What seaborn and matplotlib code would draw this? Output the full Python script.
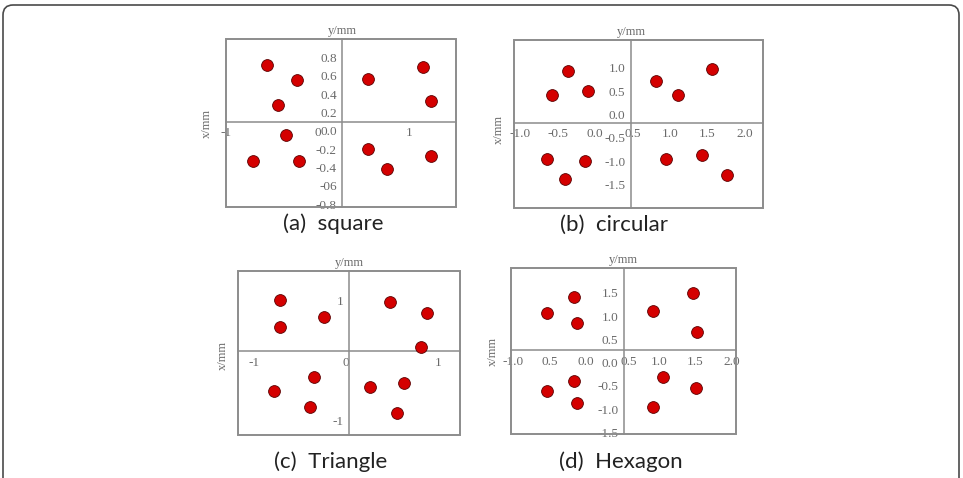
import numpy as np
import pandas as pd
import matplotlib
matplotlib.use("Agg")
import matplotlib.pyplot as plt
import matplotlib.transforms as mtransforms
import seaborn as sns
from matplotlib.patches import FancyBboxPatch, Rectangle

# ── DATA ───────────────────────────────────────────────────────
sq_x = [-0.55, -0.23, -0.43, -0.34, -0.70, -0.20, 0.55, 1.15, 1.24, 0.55, 0.76, 1.24]
sq_y = [0.72, 0.55, 0.28, -0.05, -0.33, -0.33, 0.56, 0.69, 0.32, -0.20, -0.42, -0.27]

ci_x = [-0.36, -0.58, -0.10, 0.81, 1.10, 1.56, -0.64, -0.13, -0.40, 0.95, 1.42, 1.76]
ci_y = [0.93, 0.41, 0.50, 0.71, 0.41, 0.97, -0.96, -1.00, -1.39, -0.96, -0.87, -1.30]

tr_x = [-0.72, -0.72, -0.24, 0.48, 0.88, 0.81, -0.35, -0.79, -0.40, 0.26, 0.63, 0.55]
tr_y = [1.00, 0.56, 0.72, 0.97, 0.79, 0.23, -0.28, -0.51, -0.78, -0.44, -0.38, -0.88]

hx_x = [-0.17, -0.54, -0.13, 0.92, 1.47, 1.52, -0.17, -0.54, -0.13, 1.06, 1.51, 0.92]
hx_y = [1.41, 1.06, 0.84, 1.10, 1.50, 0.66, -0.39, -0.61, -0.87, -0.31, -0.54, -0.96]

sq_xt = [-1, 0, 1];  sq_xl = ["-1", "0", "1"]
sq_yt = [0.8, 0.6, 0.4, 0.2, 0.0, -0.2, -0.4, -0.6, -0.8]
sq_yl = ["0.8", "0.6", "0.4", "0.2", "0.0", "-0.2", "-0.4", "-06", "-0.8"]

ci_xt = [-1.0, -0.5, 0.0, 0.5, 1.0, 1.5, 2.0]
ci_xl = ["-1.0", "-0.5", "0.0", "0.5", "1.0", "1.5", "2.0"]
ci_yt = [1.0, 0.5, 0.0, -0.5, -1.0, -1.5]
ci_yl = ["1.0", "0.5", "0.0", "-0.5", "-1.0", "-1.5"]

tr_xt = [-1, 0, 1];  tr_xl = ["-1", "0", "1"]
tr_yt = [1, -1];     tr_yl = ["1", "-1"]

hx_xt = [-1.0, -0.5, 0.0, 0.5, 1.0, 1.5, 2.0]
hx_xl = ["-1.0", "0.5", "0.0", "0.5", "1.0", "1.5", "2.0"]
hx_yt = [1.5, 1.0, 0.5, 0.0, -0.5, -1.0, -1.5]
hx_yl = ["1.5", "1.0", "0.5", "0.0", "-0.5", "-1.0", "-1.5"]

titles = ["(a)  square", "(b)  circular", "(c)  Triangle", "(d)  Hexagon"]

# ── STYLE ──────────────────────────────────────────────────────
sns.set_style("white")
plt.rcParams["font.family"] = ["Liberation Serif", "DejaVu Serif"]
LINE = "#8c8c8c"; TXT = "#6a6a6a"; DOT = "#d40000"

W, H = 963, 478
fig = plt.figure(figsize=(W/100, H/100), dpi=100)

def px_axes(l, t, r, b):
    return fig.add_axes([l/W, 1-b/H, (r-l)/W, (b-t)/H])

def panel(box, xs, ys, xlim, ylim, x0, y0, xt, xl, yt, yl, title, tpos, xlab):
    ax = px_axes(*box)
    df = pd.DataFrame({"x": xs, "y": ys})
    sns.scatterplot(data=df, x="x", y="y", ax=ax, s=72, color=DOT,
                    edgecolor="#5a0000", linewidth=0.6, zorder=3)
    ax.set_xlim(*xlim); ax.set_ylim(*ylim)
    ax.set_xlabel(""); ax.set_ylabel("")
    for s in ["top", "right"]:
        ax.spines[s].set_visible(False)
    ax.spines["left"].set_position(("data", x0))
    ax.spines["bottom"].set_position(("data", y0))
    for s in ["left", "bottom"]:
        ax.spines[s].set_color(LINE); ax.spines[s].set_linewidth(1.1)
    ax.add_patch(Rectangle((0, 0), 1, 1, transform=ax.transAxes, fill=False,
                           edgecolor=LINE, lw=1.4, clip_on=False, zorder=1))
    ax.set_xticks(xt); ax.set_xticklabels(xl)
    ax.set_yticks(yt); ax.set_yticklabels(yl)
    ax.tick_params(axis="both", length=2.5, width=0.8, color=LINE,
                   labelcolor=TXT, labelsize=9.5, pad=1.5, direction="out")
    ax.patch.set_alpha(0)
    # axis names
    ax.text(x0, 1.012, "y/mm", transform=ax.get_xaxis_transform(),
            ha="center", va="bottom", fontsize=9, color=TXT)
    fig.text(xlab[0]/W, 1-xlab[1]/H, "x/mm", ha="center", va="center",
             rotation=90, fontsize=9, color=TXT)
    fig.text(tpos[0]/W, 1-tpos[1]/H, title, ha="center", va="center",
             fontsize=16, color="#222222", family=["Lato", "DejaVu Sans"])
    return ax

panel((226, 39, 456, 207), sq_x, sq_y, (-0.95, 1.51), (-0.83, 1.0), 0.27, 0.10,
      sq_xt, sq_xl, sq_yt, sq_yl, titles[0], (333, 224), (207, 124))
panel((514, 40, 763, 208), ci_x, ci_y, (-1.08, 2.24), (-2.0, 1.59), 0.48, -0.18,
      ci_xt, ci_xl, ci_yt, ci_yl, titles[1], (614, 225), (499, 130))
ax_c = panel((238, 271, 460, 435), tr_x, tr_y, (-1.18, 1.24), (-1.24, 1.49), 0.03, 0.15,
             tr_xt, tr_xl, tr_yt, tr_yl, titles[2], (331, 462), (223, 355))
ax_d = panel((511, 268, 736, 434), hx_x, hx_y, (-1.03, 2.06), (-1.53, 2.03), 0.52, 0.27,
             hx_xt, hx_xl, hx_yt, hx_yl, titles[3], (621, 462), (493, 352))

# nudge the crowded "0.5" label of panel (d) a little to the right
shift = mtransforms.ScaledTranslation(6/100, 0, fig.dpi_scale_trans)
lab = ax_d.get_xticklabels()[3]
lab.set_transform(lab.get_transform() + shift)

# rounded outer frame
fig.patches.append(FancyBboxPatch((0.03, -0.3), 9.56, 5.03,
                                  boxstyle="round,pad=0,rounding_size=0.1",
                                  transform=fig.dpi_scale_trans, fill=False,
                                  edgecolor="#4a4a4a", lw=1.2))

fig.savefig("out.png", dpi=100, facecolor="white")
